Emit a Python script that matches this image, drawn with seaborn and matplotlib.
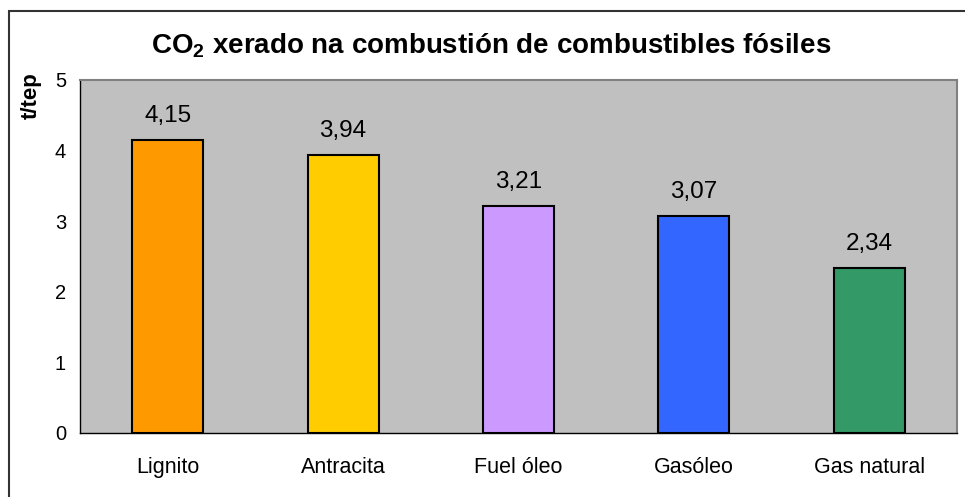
import matplotlib
matplotlib.use("Agg")
import pandas as pd
import seaborn as sns
from matplotlib import pyplot as plt
from matplotlib.patches import Rectangle

# chart data
fuels = ["Lignito", "Antracita", "Fuel óleo", "Gasóleo", "Gas natural"]
co2 = [4.15, 3.94, 3.21, 3.07, 2.34]
bar_colors = ["#FF9900", "#FFCC00", "#CC99FF", "#3366FF", "#339966"]
yticks = [0, 1, 2, 3, 4, 5]

sns.set_style("white")
plt.rcParams["font.family"] = ["Liberation Sans", "DejaVu Sans"]
plt.rcParams["mathtext.fontset"] = "custom"
plt.rcParams["mathtext.rm"] = "Liberation Sans"
plt.rcParams["mathtext.bf"] = "Liberation Sans:bold"
plt.rcParams["text.color"] = "black"
plt.rcParams["xtick.color"] = "black"
plt.rcParams["ytick.color"] = "black"

df = pd.DataFrame({"fuel": fuels, "co2": co2})

fig = plt.figure(figsize=(9.65, 4.97), dpi=100)
ax = fig.add_axes([80 / 965, 1 - 433 / 497, 877 / 965, 353 / 497])

sns.barplot(data=df, x="fuel", y="co2", hue="fuel", palette=bar_colors,
            legend=False, width=0.405, edgecolor="black", linewidth=1.5,
            saturation=1, ax=ax)

ax.set_facecolor("#C0C0C0")
ax.set_xlim(-0.5, 4.5)
ax.set_ylim(0, 5)
ax.set_yticks(yticks)
ax.set_yticklabels([str(t) for t in yticks], fontsize=14.5)
# excel style ticks between the categories
ax.set_xticks([i + 0.5 for i in range(-1, 5)], minor=False)
ax.set_xticklabels([])
ax.set_xticks(range(5), minor=True)
ax.set_xticklabels(fuels, minor=True, fontsize=15.5)
ax.tick_params(axis="x", which="minor", length=0, pad=17)
ax.tick_params(axis="x", which="major", direction="out", length=6, color="black")
ax.tick_params(axis="y", direction="out", length=5, color="black", pad=5)
ax.set_xlabel("")
ax.set_ylabel("")

for side in ["top", "right"]:
    ax.spines[side].set_color("#808080")
    ax.spines[side].set_linewidth(1.5)
for side in ["left", "bottom"]:
    ax.spines[side].set_color("black")
    ax.spines[side].set_linewidth(1)

for i, v in enumerate(co2):
    ax.annotate(f"{v:.2f}".replace(".", ","), (i, v), xytext=(0, 13),
                textcoords="offset points", ha="center", va="baseline",
                fontsize=17.5)

fig.text(491 / 965, 1 - 46 / 497, r"CO$_\mathbf{2}$ xerado na combustión de combustibles fósiles",
         ha="center", va="center", fontsize=20, fontweight="bold")
fig.text(31 / 965, 1 - 96 / 497, "t/tep", rotation=90, ha="center", va="center",
         fontsize=16, fontweight="bold")

fig.patches.append(Rectangle((9 / 965, -0.1), 1.2, 1 - 11 / 497 + 0.1,
                             transform=fig.transFigure, fill=False,
                             edgecolor="#333333", linewidth=1.5))

fig.savefig("out.png", dpi=100)
